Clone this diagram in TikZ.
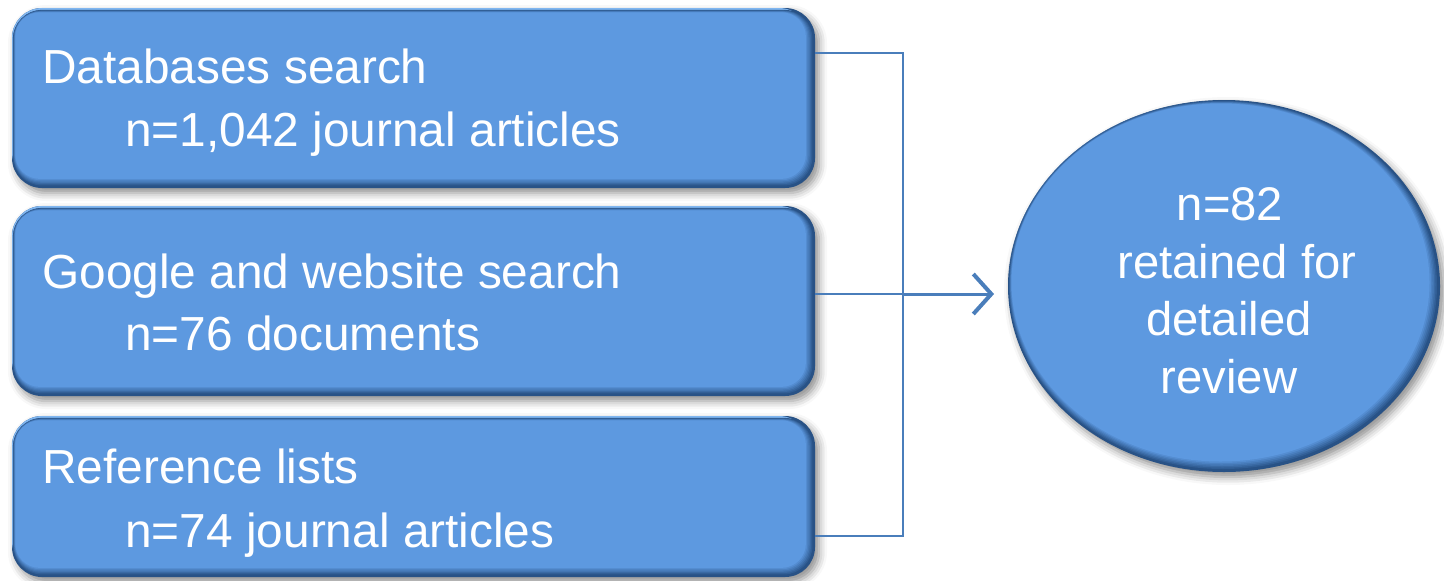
\documentclass[tikz,border=0pt]{standalone}
\usepackage{fontspec}
\setmainfont{Liberation Sans}
\usetikzlibrary{arrows.meta,fit,shapes.geometric,shadows.blur}
\definecolor{mainblue}{RGB}{93,153,224}
\definecolor{darkblue}{RGB}{40,82,134}
\definecolor{lightblue}{RGB}{128,182,240}
\definecolor{connblue}{RGB}{74,126,187}
\tikzset{
  conn/.style={draw=connblue, line width=1pt},
  arr/.style={draw=connblue, line width=1.5pt, -{Straight Barb[length=9pt,width=20pt,line width=2pt]}},
  boxtext/.style={text=white, anchor=base west, inner sep=0pt, font=\fontsize{23.9}{28}\selectfont},
  elltext/.style={text=white, anchor=base, inner sep=0pt, font=\fontsize{23.6}{28}\selectfont},
  bshadow/.style={blur shadow={shadow xshift=2pt, shadow yshift=-2.5pt, shadow blur radius=4pt, shadow opacity=45}}
}
\newcommand\bevbox[5]{%
  \fill[bshadow, darkblue, rounded corners=15pt] (#2,#3) rectangle (#4,#5);
  \fill[lightblue, rounded corners=15pt] (#2,#3) rectangle (#4-6,#5-6);
  \foreach \k in {1,...,7}{%
    \pgfmathsetmacro\pp{(\k-1)*100/6}%
    \pgfmathsetmacro\rr{15-0.4*\k}%
    \fill[mainblue!\pp!darkblue, rounded corners=\rr pt] (#2+0.5+0.4*\k,#3+1.5+0.4*\k) rectangle (#4-1.3*\k,#5-1.3*\k);
  }
  \node[fit={(#2,#3) (#4,#5)}, inner sep=0pt] (#1) {};
}
\begin{document}
\begin{tikzpicture}[x=0.5pt,y=-0.5pt]
\useasboundingbox (0,0) rectangle (1444,580);
% boxes
\bevbox{db}{12}{8}{815}{188}
\bevbox{gw}{12}{206}{815}{396}
\bevbox{rl}{12}{416}{815}{577}
% ellipse
\fill[bshadow, darkblue] (1224,286) ellipse [x radius=216, y radius=186];
\fill[lightblue] (1222,284) ellipse [x radius=213, y radius=183];
\foreach \k in {1,...,7}{%
  \pgfmathsetmacro\pp{(\k-1)*100/6}%
  \fill[mainblue!\pp!darkblue] (1224-0.5*\k,286-0.5*\k) ellipse [x radius=216-1.0*\k, y radius=186-1.0*\k];
}
\node[ellipse, inner sep=0pt, minimum width=216pt, minimum height=186pt] (ret) at (1224,286) {};
% texts
\node[boxtext] (dbA) at (42,83) {Databases search};
\node[boxtext] (dbB) at (125,146) {n=1,042 journal articles};
\node[boxtext] (gwA) at (42,288) {Google and website search};
\node[boxtext] (gwB) at (125,350) {n=76 documents};
\node[boxtext] (rlA) at (42,483) {Reference lists};
\node[boxtext] (rlB) at (125,547) {n=74 journal articles};
\node[elltext] (eA) at (1230,220) {n=82};
\node[elltext] (eB) at (1237,278) {retained for};
\node[elltext] (eC) at (1229,335) {detailed};
\node[elltext] (eD) at (1229,393) {review};
% connectors
\coordinate (j1) at (903,53);
\coordinate (j2) at (903,294);
\coordinate (j3) at (903,536);
\coordinate (aend) at (994,294);
\draw[conn] (db.east |- j1) -- (j1) -- (j3) -- (rl.east |- j3);
\draw[conn] (gw.east |- j2) -- (j2);
\draw[arr] (j2) -- (aend);
\end{tikzpicture}
\end{document}
